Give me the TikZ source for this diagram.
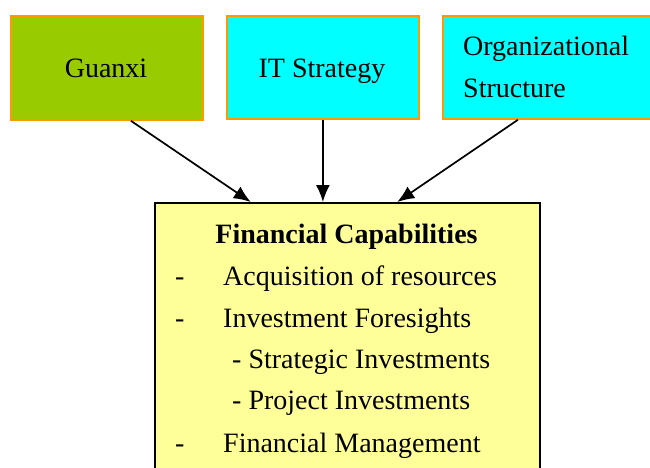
\documentclass[tikz,border=0pt]{standalone}
\usepackage{fontspec}
\setmainfont{Liberation Serif}
\usetikzlibrary{arrows.meta,calc}
\definecolor{guanxigreen}{HTML}{99CC00}
\definecolor{boxcyan}{HTML}{00FFFF}
\definecolor{boxorange}{HTML}{FF9900}
\definecolor{capyellow}{HTML}{FFFF99}
\begin{document}
\begin{tikzpicture}[x=1pt,y=-1pt,
  topbox/.style={draw=boxorange, line width=1.8pt, anchor=north west, inner sep=0pt},
  capbox/.style={draw=black, line width=1.5pt, fill=capyellow, anchor=north west, inner sep=0pt},
  txt/.style={font=\fontsize{28}{42}\selectfont, inner sep=0pt},
  link/.style={draw=black, line width=1.7pt, -{Latex[length=17pt,width=14pt]}}
]
\clip (0,0) rectangle (650,467);
\fill[white] (0,0) rectangle (650,467);
\node[topbox, fill=guanxigreen, minimum width=192pt, minimum height=104pt] (g) at (10,15) {};
\node[topbox, fill=boxcyan, minimum width=192pt, minimum height=103pt] (it) at (226,15) {};
\node[topbox, fill=boxcyan, minimum width=215pt, minimum height=103pt] (org) at (442,15) {};
\node[capbox, minimum width=385pt, minimum height=290pt] (fc) at (154,202) {};

\node[txt, anchor=base] (gt) at (106,77) {Guanxi};
\node[txt, anchor=base] (itt) at (322,77) {IT Strategy};
\node[txt, anchor=base west] (orgt1) at (463,55) {Organizational};
\node[txt, anchor=base west] (orgt2) at (463,97) {Structure};

\node[txt, anchor=base, font=\fontsize{28}{42}\selectfont\bfseries] (fct) at (346.5,243) {Financial Capabilities};
\node[txt, anchor=base west] (d1) at (175,285) {-};
\node[txt, anchor=base west] (l1) at (223,285) {Acquisition of resources};
\node[txt, anchor=base west] (d2) at (175,327) {-};
\node[txt, anchor=base west] (l2) at (223,327) {Investment Foresights};
\node[txt, anchor=base west] (l3) at (232,368) {- Strategic Investments};
\node[txt, anchor=base west] (l4) at (232,409) {- Project Investments};
\node[txt, anchor=base west] (d5) at (175,452) {-};
\node[txt, anchor=base west] (l5) at (223,452) {Financial Management};

\draw[link] ([xshift=24pt]g.south) -- ([xshift=-96.5pt]fc.north);
\draw[link] (it.south) -- (fc.north -| it.south);
\draw[link] ([xshift=-32.5pt]org.south) -- ([xshift=50pt]fc.north);
\end{tikzpicture}
\end{document}
